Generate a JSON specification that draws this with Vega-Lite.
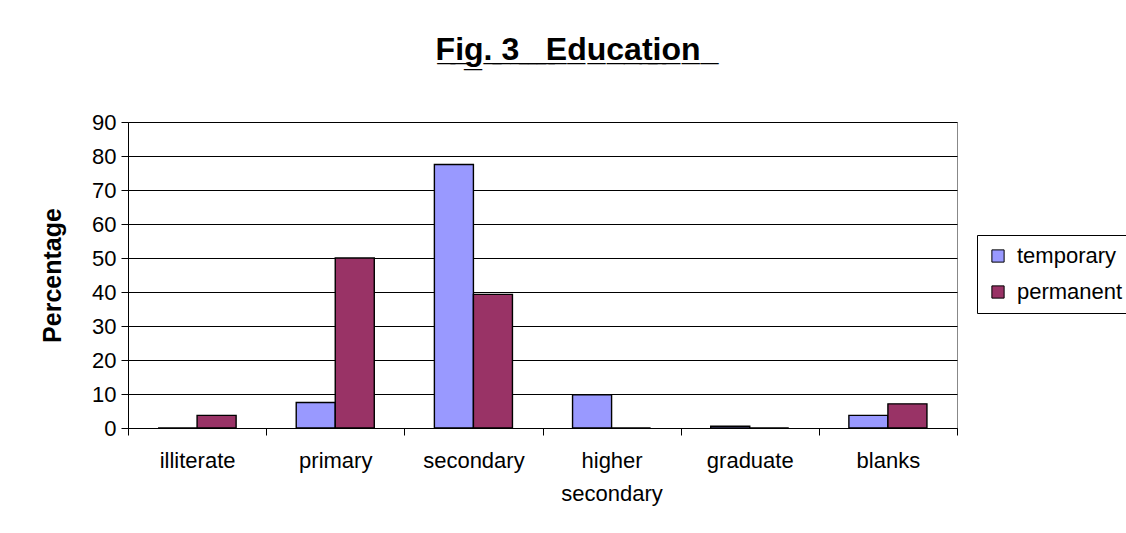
{
  "$schema": "https://vega.github.io/schema/vega-lite/v6.json",
  "width": 829,
  "height": 306,
  "autosize": {"type": "none"},
  "padding": {"left": 128, "top": 122, "right": 169, "bottom": 105},
  "background": "white",
  "title": {
    "text": "F̲i̲g̲.̲ ̲3̲ ̲ ̲ ̲E̲d̲u̲c̲a̲t̲i̲o̲n̲ ̲",
    "anchor": "middle",
    "dx": 30,
    "baseline": "alphabetic",
    "offset": 19,
    "font": "Liberation Sans",
    "fontSize": 32,
    "fontWeight": "bold",
    "color": "#000000"
  },
  "data": {
    "values": [
      {"level": "illiterate", "group": "temporary", "pct": 0},
      {"level": "illiterate", "group": "permanent", "pct": 3.7},
      {"level": "primary", "group": "temporary", "pct": 7.5},
      {"level": "primary", "group": "permanent", "pct": 50},
      {"level": "secondary", "group": "temporary", "pct": 77.5},
      {"level": "secondary", "group": "permanent", "pct": 39.3},
      {"level": "higher secondary", "group": "temporary", "pct": 9.8},
      {"level": "higher secondary", "group": "permanent", "pct": 0},
      {"level": "graduate", "group": "temporary", "pct": 0.5},
      {"level": "graduate", "group": "permanent", "pct": 0},
      {"level": "blanks", "group": "temporary", "pct": 3.7},
      {"level": "blanks", "group": "permanent", "pct": 7.1}
    ]
  },
  "mark": {"type": "bar", "stroke": "#000000", "strokeWidth": 1.4},
  "encoding": {
    "x": {
      "field": "level",
      "type": "nominal",
      "sort": ["illiterate", "primary", "secondary", "higher secondary", "graduate", "blanks"],
      "scale": {"paddingInner": 0, "paddingOuter": 0},
      "axis": {
        "title": null,
        "labelAngle": 0,
        "labelFont": "Liberation Sans",
        "labelFontSize": 22,
        "labelColor": "#000000",
        "labelPadding": 15,
        "labelLineHeight": 33,
        "labelExpr": "datum.value == 'higher secondary' ? ['higher', 'secondary'] : datum.value",
        "tickBand": "extent",
        "tickSize": 7,
        "tickColor": "#000000",
        "domainColor": "#000000",
        "grid": false
      }
    },
    "xOffset": {
      "field": "group",
      "type": "nominal",
      "sort": ["temporary", "permanent"],
      "scale": {"paddingInner": 0, "paddingOuter": 0.77}
    },
    "y": {
      "field": "pct",
      "type": "quantitative",
      "scale": {"domain": [0, 90], "nice": false},
      "axis": {
        "title": "Percentage",
        "titleFont": "Liberation Sans",
        "titleFontSize": 25,
        "titleFontWeight": "bold",
        "titleColor": "#000000",
        "titlePadding": 26,
        "values": [0, 10, 20, 30, 40, 50, 60, 70, 80, 90],
        "labelFont": "Liberation Sans",
        "labelFontSize": 22,
        "labelColor": "#000000",
        "labelPadding": 5,
        "tickSize": 7,
        "tickColor": "#000000",
        "domainColor": "#000000",
        "grid": true,
        "gridColor": "#000000",
        "gridWidth": 1
      }
    },
    "color": {
      "field": "group",
      "type": "nominal",
      "sort": ["temporary", "permanent"],
      "scale": {"domain": ["temporary", "permanent"], "range": ["#9999FF", "#993366"]},
      "legend": {
        "title": null,
        "orient": "none",
        "legendX": 849,
        "legendY": 113,
        "padding": 10,
        "rowPadding": 14,
        "strokeColor": "#000000",
        "fillColor": "#FFFFFF",
        "symbolType": "square",
        "symbolSize": 150,
        "symbolStrokeColor": "#000000",
        "symbolStrokeWidth": 1,
        "symbolOpacity": 1,
        "labelFont": "Liberation Sans",
        "labelFontSize": 22,
        "labelColor": "#000000",
        "labelOffset": 8
      }
    }
  },
  "config": {
    "view": {"stroke": "#888888", "strokeWidth": 1}
  }
}
